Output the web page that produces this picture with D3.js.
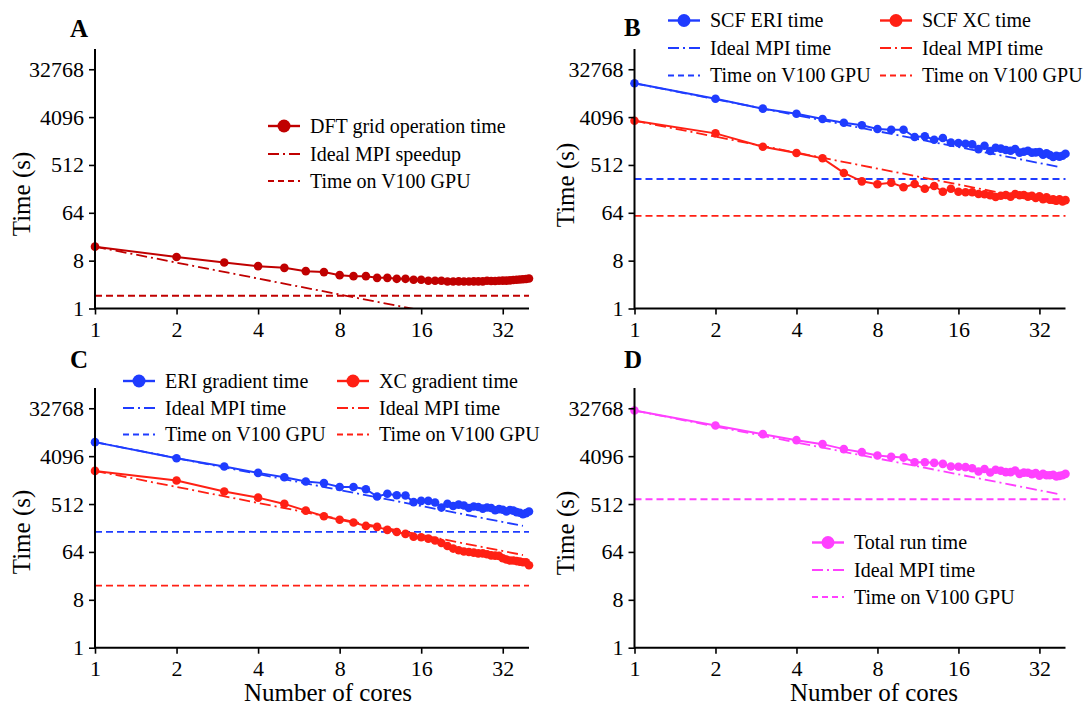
<!DOCTYPE html>
<html><head><meta charset="utf-8">
<script src="https://cdn.jsdelivr.net/npm/d3@7"></script>
<style>
body{margin:0;background:#fff}
svg{display:block}
</style>
</head><body>
<svg id="chart" width="1085" height="711"></svg>
<script>
// ---------------- DATA ----------------
const cores = [1,2,3,4,5,6,7,8,9,10,11,12,13,14,15,16,17,18,19,20,
               21,22,23,24,25,26,27,28,29,30,31,32,33,34,35,36,37,38,39,40];
const xTickValues = [1,2,4,8,16,32];
const yTickValues = [1,8,64,512,4096,32768];
const idealCores = [1,38];
const gpuCores = [1,40];

// Panel A
const dftGridTime = [14.7,9.4,7.4,6.3,5.85,5.07,4.86,4.26,4.08,4.08,3.79,3.79,3.63,3.63,3.48,3.48,3.33,3.33,3.33,3.23,
                     3.23,3.25,3.23,3.23,3.25,3.25,3.25,3.33,3.3,3.3,3.33,3.36,3.36,3.4,3.44,3.48,3.52,3.56,3.6,3.68];
const dftIdeal = [14.7,0.387];
const dftGpu = [1.74,1.74];

// Panel B
const scfEriTime = [17800,9090,5910,4740,3770,3210,2880,2440,2370,2370,1720,1780,1530,1650,1350,1330,1290,1250,1020,1180,
                    936,1080,1040,982,949,1024,873,910,949,873,885,898,798,849,787,724,765,734,765,832];
const scfEriIdeal = [17800,468];
const scfEriGpu = [278,278];
const scfXcTime = [3500,2020,1130,860,683,362,251,221,237,194,224,182,205,160,182,160,156,156,145,143,
                   137,127,134,139,129,145,137,139,129,134,122,131,115,125,113,115,108,115,105,111];
const scfXcIdeal = [3500,92];
const scfXcGpu = [56,56];

// Panel C
const eriGradTime = [7530,3750,2610,1980,1640,1360,1270,1070,1070,975,709,798,750,740,556,588,588,549,439,519,
                     470,500,480,430,460,450,420,440,430,390,410,400,370,395,385,360,350,329,345,370];
const eriGradIdeal = [7530,198];
const eriGradGpu = [153,153];
const xcGradTime = [2160,1420,880,676,515,385,302,258,229,198,190,167,152,140,124,121,114,105,94,83,
                    74,69,65,64,62,60,60,58,55,54.5,54,48.6,46,44,44,43,42,41,41,36];
const xcGradIdeal = [2160,56];
const xcGradGpu = [14.8,14.8];

// Panel D
const totalRunTime = [29700,15500,10650,8200,6900,5560,4870,4200,3980,3850,3150,3150,3060,2930,2610,2580,2540,2430,2100,2340,
                      2010,2270,2170,2050,2050,2200,1900,2000,1990,1880,1960,1760,1900,1790,1790,1820,1690,1740,1790,1900];
const totalIdeal = [29700,782];
const totalGpu = [630,630];

// ---------------- COLOURS / STYLE ----------------
const FONT = "Liberation Serif";
const cDark = "#c00000", cBlue = "#1f3cff", cRed = "#ff2014", cMag = "#ff40ff";
const DASH = "7,4", DASHDOT = "11,4,2,4";

const svg = d3.select("#chart");
const yDomain = [1, 79000];

const panels = [
  {id:"A", xr:[95,529], yr:[308.5,49], letter:[70,37], ylab:[21,194], xlab:null,
   series:[{t:dftGridTime, ideal:dftIdeal, gpu:dftGpu, c:cDark}],
   legend:[{x:268,y:126,c:cDark,k:"m",l:"DFT grid operation time"},
           {x:268,y:154,c:cDark,k:"dd",l:"Ideal MPI speedup"},
           {x:268,y:181,c:cDark,k:"d",l:"Time on V100 GPU"}]},
  {id:"B", xr:[634.5,1065.5], yr:[308.5,49], letter:[624,36], ylab:[565,185], xlab:null,
   series:[{t:scfEriTime, ideal:scfEriIdeal, gpu:scfEriGpu, c:cBlue},
           {t:scfXcTime, ideal:scfXcIdeal, gpu:scfXcGpu, c:cRed}],
   legend:[{x:668,y:20.5,c:cBlue,k:"m",l:"SCF ERI time"},
           {x:668,y:48,c:cBlue,k:"dd",l:"Ideal MPI time"},
           {x:668,y:75.5,c:cBlue,k:"d",l:"Time on V100 GPU"},
           {x:880,y:20.5,c:cRed,k:"m",l:"SCF XC time"},
           {x:880,y:48,c:cRed,k:"dd",l:"Ideal MPI time"},
           {x:880,y:75.5,c:cRed,k:"d",l:"Time on V100 GPU"}]},
  {id:"C", xr:[95,529], yr:[647.7,388], letter:[70,368], ylab:[21,532], xlab:[328,701],
   series:[{t:eriGradTime, ideal:eriGradIdeal, gpu:eriGradGpu, c:cBlue},
           {t:xcGradTime, ideal:xcGradIdeal, gpu:xcGradGpu, c:cRed}],
   legend:[{x:123,y:381,c:cBlue,k:"m",l:"ERI gradient time"},
           {x:123,y:408,c:cBlue,k:"dd",l:"Ideal MPI time"},
           {x:123,y:434.5,c:cBlue,k:"d",l:"Time on V100 GPU"},
           {x:337,y:381,c:cRed,k:"m",l:"XC gradient time"},
           {x:337,y:408,c:cRed,k:"dd",l:"Ideal MPI time"},
           {x:337,y:434.5,c:cRed,k:"d",l:"Time on V100 GPU"}]},
  {id:"D", xr:[634.5,1065.5], yr:[647.7,388], letter:[624,368], ylab:[565,533], xlab:[874,701],
   series:[{t:totalRunTime, ideal:totalIdeal, gpu:totalGpu, c:cMag}],
   legend:[{x:812,y:542.5,c:cMag,k:"m",l:"Total run time"},
           {x:812,y:570,c:cMag,k:"dd",l:"Ideal MPI time"},
           {x:812,y:597,c:cMag,k:"d",l:"Time on V100 GPU"}]}
];

panels.forEach((p, pi) => {
  const x = d3.scaleLog().base(2).domain([1,40]).range(p.xr);
  const y = d3.scaleLog().base(2).domain(yDomain).range(p.yr);
  const g = svg.append("g");

  const clipId = "clip"+pi;
  svg.append("clipPath").attr("id", clipId).append("rect")
    .attr("x", p.xr[0]).attr("y", p.yr[1]).attr("width", p.xr[1]-p.xr[0]+6).attr("height", p.yr[0]-p.yr[1]);

  const line = d3.line().x(d => x(d[0])).y(d => y(d[1]));
  const plot = g.append("g").attr("clip-path", `url(#${clipId})`);

  p.series.forEach(s => {
    plot.append("path").attr("d", line(gpuCores.map((c,i)=>[c,s.gpu[i]])))
      .attr("fill","none").attr("stroke",s.c).attr("stroke-width",1.8).attr("stroke-dasharray",DASH);
  });
  p.series.forEach(s => {
    plot.append("path").attr("d", line(idealCores.map((c,i)=>[c,s.ideal[i]])))
      .attr("fill","none").attr("stroke",s.c).attr("stroke-width",1.8).attr("stroke-dasharray",DASHDOT);
  });
  p.series.forEach(s => {
    const pts = cores.map((c,i)=>[c,s.t[i]]);
    g.append("path").attr("d", line(pts)).attr("fill","none").attr("stroke",s.c).attr("stroke-width",2);
    g.append("g").selectAll("circle").data(pts).join("circle")
      .attr("cx", d=>x(d[0])).attr("cy", d=>y(d[1])).attr("r",4.3).attr("fill",s.c);
  });

  const xAxis = d3.axisBottom(x).tickValues(xTickValues).tickFormat(d3.format("d")).tickSizeOuter(0).tickSize(6).tickPadding(4);
  const yAxis = d3.axisLeft(y).tickValues(yTickValues).tickFormat(d3.format("d")).tickSizeOuter(0).tickSize(6).tickPadding(5);
  const gx = g.append("g").attr("transform",`translate(0,${p.yr[0]})`).call(xAxis);
  const gy = g.append("g").attr("transform",`translate(${p.xr[0]},0)`).call(yAxis);
  [gx,gy].forEach(a => {
    a.attr("font-family", FONT).attr("font-size", 22);
    a.select(".domain").attr("stroke","#000").attr("stroke-width",2);
    a.selectAll(".tick line").attr("stroke","#000").attr("stroke-width",1.6);
    a.selectAll("text").style("font-family", FONT).style("font-size","22px").attr("fill","#000");
  });
  gx.select(".domain").attr("d", `M${p.xr[0]},0H${p.xr[1]}`);
  gy.select(".domain").attr("d", `M0,${p.yr[0]+1}V${p.yr[1]}`);
  gx.selectAll("text").attr("dy","0.85em");

  g.append("text").attr("x",p.letter[0]).attr("y",p.letter[1]).text(p.id)
    .style("font-family", FONT).style("font-size","25px").style("font-weight","bold");
  g.append("text").attr("transform",`translate(${p.ylab[0]},${p.ylab[1]}) rotate(-90)`)
    .attr("text-anchor","middle").attr("dy","0.35em")
    .style("font-family", FONT).style("font-size","25px").text("Time (s)");
  if (p.xlab) {
    g.append("text").attr("x",p.xlab[0]).attr("y",p.xlab[1]).attr("text-anchor","middle")
      .style("font-family", FONT).style("font-size","25px").text("Number of cores");
  }

  p.legend.forEach(it => {
    const lg = g.append("g");
    const ls = lg.append("line").attr("x1",it.x).attr("x2",it.x+32).attr("y1",it.y).attr("y2",it.y)
      .attr("stroke",it.c).attr("stroke-width",2);
    if (it.k==="m") { ls.attr("stroke-width",2.4);
      lg.append("circle").attr("cx",it.x+16).attr("cy",it.y).attr("r",6.5).attr("fill",it.c); }
    if (it.k==="dd") ls.attr("stroke-dasharray",DASHDOT);
    if (it.k==="d") ls.attr("stroke-dasharray","6,4");
    lg.append("text").attr("x",it.x+42).attr("y",it.y).attr("dy","0.33em")
      .style("font-family", FONT).style("font-size","20px").text(it.l);
  });
});
</script>
</body></html>
